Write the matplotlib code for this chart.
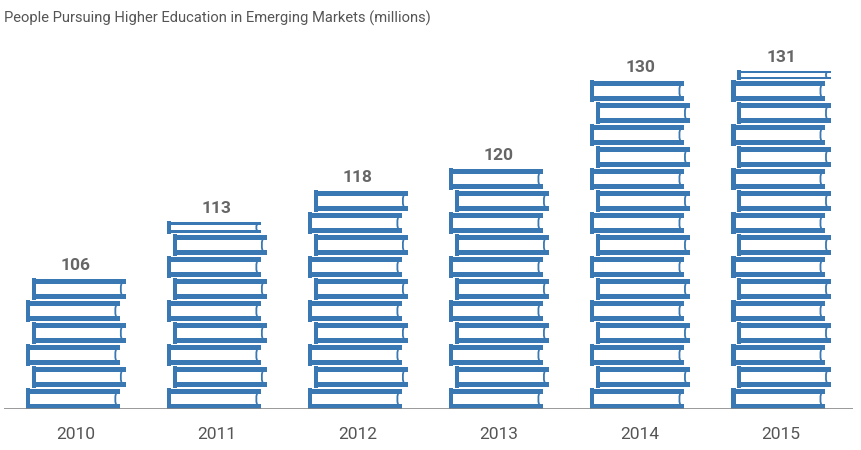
import matplotlib.pyplot as plt
import numpy as np
from matplotlib.patches import Rectangle
from matplotlib.path import Path
from matplotlib.patches import PathPatch

years = ["2010", "2011", "2012", "2013", "2014", "2015"]
values = [106, 113, 118, 120, 130, 131]
# books drawn per column (last one may be a thin partial book)
books = [6, 8.5, 10, 11, 15, 15.37]

BLUE = "#3a78b4"
FONT = ["Liberation Sans Narrow", "Roboto", "DejaVu Sans"]

book_w = 0.667
book_h = 0.91
shift = 0.0195
cover = 0.21
spine = 0.03
edge = 0.03


def draw_book(ax, xc, y0, h, k):
    # alternate books sit a little to the left / right
    xl = xc - book_w / 2 + (shift if k % 2 else -shift)
    xr = xl + book_w
    c = min(cover, h * 0.24)
    ax.add_patch(Rectangle((xl, y0), book_w, c, color=BLUE, lw=0))
    ax.add_patch(Rectangle((xl, y0 + h - c), book_w, c, color=BLUE, lw=0))
    ax.add_patch(Rectangle((xl, y0 - 0.03), spine, h + 0.06, color=BLUE, lw=0))
    # page edge, slightly curved
    xe = xr - edge
    verts = [(xe, y0 + c), (xe - 0.012, y0 + h / 2), (xe, y0 + h - c)]
    path = Path(verts, [Path.MOVETO, Path.CURVE3, Path.CURVE3])
    ax.add_patch(PathPatch(path, fill=False, edgecolor=BLUE, lw=1.3))


fig = plt.figure(figsize=(8.61, 4.5), dpi=100)
ax = fig.add_axes([4 / 861, 41 / 450, 849 / 861, 374 / 450])
ax.set_xlim(-0.51, 5.51)
ax.set_ylim(0, 17)

for i, n in enumerate(books):
    full = int(n)
    frac = n - full
    for k in range(full):
        draw_book(ax, i, k, book_h, k)
    top = full - (1 - book_h)
    if frac > 0.01:
        draw_book(ax, i, full, frac, full)
        top = full + frac
    ax.annotate(str(values[i]), (i, top), xytext=(0, 4), textcoords="offset points",
                ha="center", va="bottom", fontsize=12.5, fontweight="bold",
                color="#666666", family=FONT)

ax.axhline(0, color="#888888", lw=1.2)
for s in ax.spines.values():
    s.set_visible(False)
ax.set_yticks([])
ax.set_xticks(range(len(years)))
ax.set_xticklabels(years, fontsize=12.5, color="#555555", family=FONT)
ax.tick_params(axis="x", length=0, pad=13)

fig.text(4 / 861, 1 - 18 / 450, "People Pursuing Higher Education in Emerging Markets (millions)",
         ha="left", va="center", fontsize=10.6, color="#555555", family=FONT)

fig.savefig("out.png", dpi=100)
